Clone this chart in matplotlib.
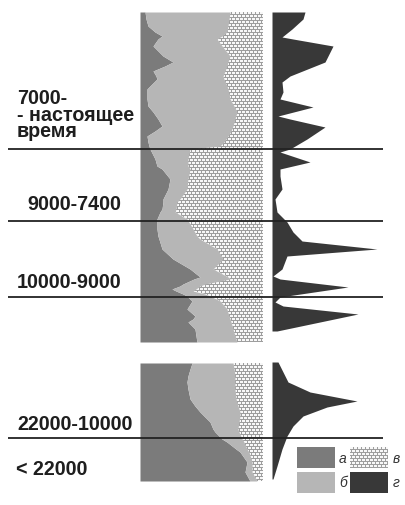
import numpy as np
import matplotlib
matplotlib.use("Agg")
import matplotlib.pyplot as plt

plt.rcParams['font.family'] = ['Liberation Sans', 'DejaVu Sans']

# ---- upper section: depth and composition (percent) ----
depth_up = [0, 7, 14, 20, 24, 27, 34, 44, 50, 54, 59, 64, 67, 74, 77, 87, 94, 100,
            107, 114, 119, 124, 130, 134, 137, 147, 154, 157, 167, 177, 187, 190,
            197, 200, 207, 217, 224, 227, 237, 247, 257, 265, 267, 272, 274, 277,
            279, 282, 284, 289, 297, 304, 307, 310, 317, 330]
a_up = [4.1, 4.9, 6.5, 12.2, 17.9, 14.6, 10.6, 18.7, 26.8, 20.3, 10.6, 13.0, 13.8,
        8.1, 5.7, 5.7, 6.5, 10.6, 14.6, 17.9, 12.2, 5.7, 6.5, 7.3, 8.1, 12.2, 13.8,
        17.9, 24.4, 22.8, 18.7, 18.7, 17.9, 16.3, 13.8, 13.8, 14.6, 15.4, 17.9,
        26.8, 40.7, 48.8, 43.9, 35.0, 32.5, 26.0, 29.3, 35.0, 38.2, 42.3, 38.2,
        44.7, 43.1, 39.0, 44.7, 46.3]
b_up = [69.1, 67.5, 65.0, 58.5, 48.8, 48.0, 56.1, 54.5, 44.7, 50.4, 58.5, 54.5, 54.5,
        62.6, 65.9, 67.5, 69.9, 68.3, 62.6, 57.7, 61.8, 65.9, 61.8, 57.7, 32.5,
        26.8, 25.2, 22.8, 14.6, 15.4, 13.8, 11.4, 11.4, 12.2, 24.4, 29.3, 31.7,
        33.3, 44.7, 40.7, 18.7, 22.8, 29.3, 17.9, 16.3, 19.5, 13.8, 17.9, 18.7,
        22.8, 32.5, 27.6, 30.1, 35.0, 30.9, 32.5]

# ---- lower section ----
depth_lo = [0, 6, 13, 19, 26, 36, 43, 49, 53, 59, 66, 69, 76, 79, 86, 89, 99, 109, 118]
a_lo = [42.3, 40.7, 39.0, 38.2, 39.0, 40.7, 44.7, 48.8, 52.0, 56.9, 59.3, 61.0, 66.7,
        70.7, 78.0, 81.3, 87.0, 85.4, 89.4]
b_lo = [33.3, 35.8, 38.2, 39.0, 38.2, 37.4, 35.0, 32.5, 29.3, 23.6, 20.3, 19.5, 16.3,
        13.8, 8.9, 7.3, 4.1, 5.7, 5.7]

# ---- profile (г) ----
prof_up_depth = [0, 7, 17, 25, 27, 34, 50, 64, 70, 80, 87, 95, 104, 107, 115, 127,
                 137, 140, 150, 157, 164, 177, 187, 200, 210, 220, 229, 237, 244, 257,
                 264, 267, 275, 285, 290, 294, 302, 319]
prof_up = [33, 31, 20, 10, 21, 61, 53, 18, 10, 11, 8, 41, 6, 18, 53, 35, 18, 8, 38, 8,
           8, 10, 3, 5, 15, 21, 30, 105, 15, 10, 1, 8, 76, 8, 3, 11, 86, 5]
prof_lo_depth = [0, 10, 20, 30, 39, 45, 54, 64, 74, 87, 104, 117]
prof_lo = [6, 11, 16, 38, 85, 55, 31, 21, 15, 10, 5, 1]

# ---- period boundaries and labels ----
boundary_y = [150, 222, 298, 439]
period_labels = [("7000-\n- настоящее\nвремя", 17, 115),
                 ("9000-7400", 27, 205), ("10000-9000", 17, 283),
                 ("22000-10000", 17, 425), ("< 22000", 16, 470)]
legend_keys = ["а", "б", "в", "г"]

W, H = 405, 506
C_A, C_B, C_G = "#7b7b7b", "#b6b6b6", "#383838"

fig = plt.figure(figsize=(W / 100, H / 100), dpi=100)


def brick_texture(h, w):
    """Small white cells separated by grey mortar lines."""
    r = np.arange(h)[:, None]
    c = np.arange(w)[None, :]
    row_line = (r % 3) == 2
    shift = 2 * ((r // 3) % 2)
    col_line = ((c + shift) % 4) == 3
    img = np.where(row_line | col_line, 0.62, 0.97)
    return img


def px_axes(x0, y0, x1, y1, z=1):
    ax = fig.add_axes([x0 / W, 1 - y1 / H, (x1 - x0) / W, (y1 - y0) / H], zorder=z)
    ax.set_axis_off()
    return ax


def stacked(ax, depth, a, b, dmax, hpx, wpx):
    d = np.array(depth, float)
    a = np.array(a, float)
    ab = a + np.array(b, float)
    ax.fill_betweenx(d, 0, a, color=C_A, lw=0)
    ax.fill_betweenx(d, a, ab, color=C_B, lw=0)
    poly = ax.fill_betweenx(d, ab, 100, facecolor="none", lw=0)
    im = ax.imshow(brick_texture(hpx, wpx), cmap="gray", vmin=0, vmax=1,
                   extent=(0, 100, dmax, 0), aspect="auto",
                   interpolation="nearest")
    im.set_clip_path(poly.get_paths()[0], ax.transData)
    ax.set_xlim(0, 100)
    ax.set_ylim(dmax, 0)


def profile(ax, depth, vals, dmax):
    d = np.array(depth, float)
    ax.fill_betweenx(d, 0, vals, color=C_G, lw=0)
    ax.set_xlim(0, 111)
    ax.set_ylim(dmax, 0)


ax1 = px_axes(140, 13, 263, 343)
stacked(ax1, depth_up, a_up, b_up, 330, 330, 123)
ax2 = px_axes(140, 364, 263, 482)
stacked(ax2, depth_lo, a_lo, b_lo, 118, 118, 123)

ax3 = px_axes(272, 13, 383, 343)
profile(ax3, prof_up_depth, prof_up, 330)
ax4 = px_axes(272, 363, 383, 481)
profile(ax4, prof_lo_depth, prof_lo, 118)

# overlay for lines, labels, legend
ov = fig.add_axes([0, 0, 1, 1], zorder=5)
ov.set_xlim(0, W)
ov.set_ylim(H, 0)
ov.set_axis_off()
ov.patch.set_alpha(0)

for y in boundary_y:
    ov.plot([8, 383], [y, y], color="#222222", lw=1.3, solid_capstyle="butt")

for txt, x, y in period_labels:
    ov.text(x, y, txt, fontsize=14.2, fontweight="bold", color="#1e1e1e",
            ha="left", va="center", linespacing=0.86)

# legend swatches
boxes = [(297, 448, C_A), (297, 473, C_B), (350, 448, None), (350, 473, C_G)]
label_pos = [(339, 459), (339, 483), (393, 459), (393, 483)]
for (bx, by, col), key, (lx, ly) in zip(boxes, legend_keys, label_pos):
    if col is None:
        ov.imshow(brick_texture(21, 38), cmap="gray", vmin=0, vmax=1,
                  extent=(bx, bx + 38, by + 21, by), aspect="auto",
                  interpolation="nearest", zorder=2)
    else:
        ov.add_patch(plt.Rectangle((bx, by), 38, 21, facecolor=col, lw=0))
    ov.text(lx, ly, key, fontsize=10, style="italic", color="#333333",
            ha="left", va="center")
ov.set_xlim(0, W)
ov.set_ylim(H, 0)

fig.savefig("out.png", dpi=100)
